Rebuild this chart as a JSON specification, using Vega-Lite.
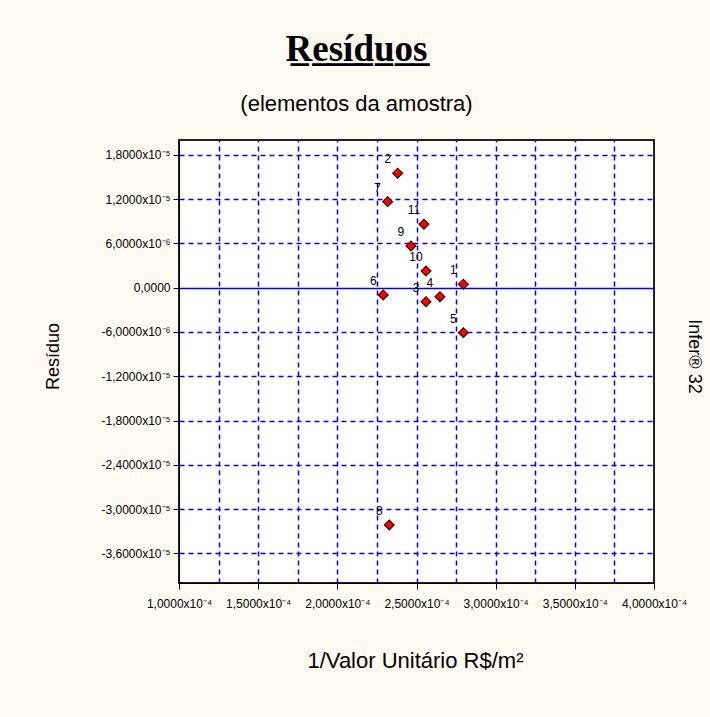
{
  "$schema": "https://vega.github.io/schema/vega-lite/v6.json",
  "width": 475,
  "height": 443,
  "autosize": {"type": "none"},
  "padding": {"left": 179, "top": 140, "right": 56, "bottom": 134},
  "background": "#FFFAF0",
  "config": {
    "view": {"fill": "white", "stroke": "#222222", "strokeWidth": 2},
    "axis": {"labelFont": "Liberation Sans", "labelFontSize": 12, "labelColor": "black", "titleFont": "Liberation Sans", "titleFontSize": 18, "titleFontWeight": "normal", "titleColor": "black", "domainColor": "black", "tickColor": "black"}
  },
  "title": {
    "text": "R̲e̲s̲í̲d̲u̲o̲s̲",
    "subtitle": "(elementos da amostra)",
    "font": "Liberation Serif",
    "fontSize": 37,
    "fontWeight": "bold",
    "color": "black",
    "subtitleFont": "Liberation Sans",
    "subtitleFontSize": 22,
    "subtitleColor": "black",
    "subtitlePadding": 25,
    "anchor": "middle",
    "dx": -60,
    "offset": 24
  },
  "data": {
    "values": [
      {"id": "1", "x": 0.0002796, "y": 0.00000046},
      {"id": "2", "x": 0.0002381, "y": 0.00001549},
      {"id": "3", "x": 0.0002560, "y": -0.0000019},
      {"id": "4", "x": 0.0002648, "y": -0.00000122},
      {"id": "5", "x": 0.0002796, "y": -0.00000609},
      {"id": "6", "x": 0.0002290, "y": -0.00000099},
      {"id": "7", "x": 0.0002318, "y": 0.00001165},
      {"id": "8", "x": 0.0002328, "y": -0.00003214},
      {"id": "9", "x": 0.0002465, "y": 0.00000565},
      {"id": "10", "x": 0.0002560, "y": 0.00000226},
      {"id": "11", "x": 0.0002547, "y": 0.00000859}
    ]
  },
  "layer": [
    {
      "mark": {"type": "point", "shape": "diamond", "filled": true, "size": 95, "fill": "#ff0000", "stroke": "#400000", "strokeWidth": 1.2, "opacity": 1},
      "encoding": {
        "x": {
          "field": "x", "type": "quantitative",
          "scale": {"domain": [0.0001, 0.0004], "nice": false, "zero": false},
          "axis": {
            "values": [0.0001, 0.00015, 0.0002, 0.00025, 0.0003, 0.00035, 0.0004],
            "grid": false, "tickSize": 6, "labelPadding": 9, "labelOverlap": false, "labelBound": false, "labelFlush": false,
            "labelExpr": "replace(format(datum.value*10000, '.4f'), '.', ',') + 'x10⁻⁴'",
            "title": "1/Valor Unitário R$/m²", "titleFontSize": 22,
            "titleX": 236, "titleY": 77, "titleBaseline": "middle", "titleAlign": "center"
          }
        },
        "y": {
          "field": "y", "type": "quantitative",
          "scale": {"domain": [-0.00004, 0.00002], "nice": false, "zero": false},
          "axis": {
            "values": [-0.000036, -0.00003, -0.000024, -0.000018, -0.000012, -0.000006, 0, 0.000006, 0.000012, 0.000018],
            "grid": true, "gridColor": "#0000ff", "gridWidth": 1.5,
            "gridDash": {"condition": {"test": "datum.value === 0", "value": []}, "value": [5, 4]},
            "tickSize": 6, "labelPadding": 3, "labelOverlap": false, "labelBound": false, "labelFlush": false,
            "labelExpr": "datum.value === 0 ? '0,0000' : (abs(datum.value) >= 0.0000099 ? replace(replace(format(datum.value*100000, '.4f'), '.', ','), '−', '-') + 'x10⁻⁵' : replace(replace(format(datum.value*1000000, '.4f'), '.', ','), '−', '-') + 'x10⁻⁶')",
            "title": "Resíduo",
            "titleAngle": -90, "titleX": -121, "titleY": 216, "titleAlign": "center", "titleBaseline": "alphabetic"
          }
        }
      }
    },
    {
      "mark": {"type": "text", "dx": -10, "dy": -14, "fontSize": 12, "font": "Liberation Sans", "color": "black"},
      "encoding": {
        "x": {
          "field": "x", "type": "quantitative",
          "axis": {
            "orient": "top",
            "values": [0.000125, 0.00015, 0.000175, 0.0002, 0.000225, 0.00025, 0.000275, 0.0003, 0.000325, 0.00035, 0.000375],
            "grid": true, "gridColor": "#0000ff", "gridWidth": 1.5, "gridDash": [5, 4],
            "labels": false, "ticks": false, "domain": false, "title": null
          }
        },
        "y": {
          "field": "y", "type": "quantitative",
          "axis": {
            "orient": "right", "grid": false, "labels": false, "ticks": false, "domain": false,
            "title": "Infer® 32", "titleAngle": 90, "titleX": 34, "titleY": 216, "titleAlign": "center", "titleBaseline": "alphabetic"
          }
        },
        "text": {"field": "id", "type": "nominal"}
      }
    }
  ],
  "resolve": {"axis": {"x": "independent", "y": "independent"}}
}
